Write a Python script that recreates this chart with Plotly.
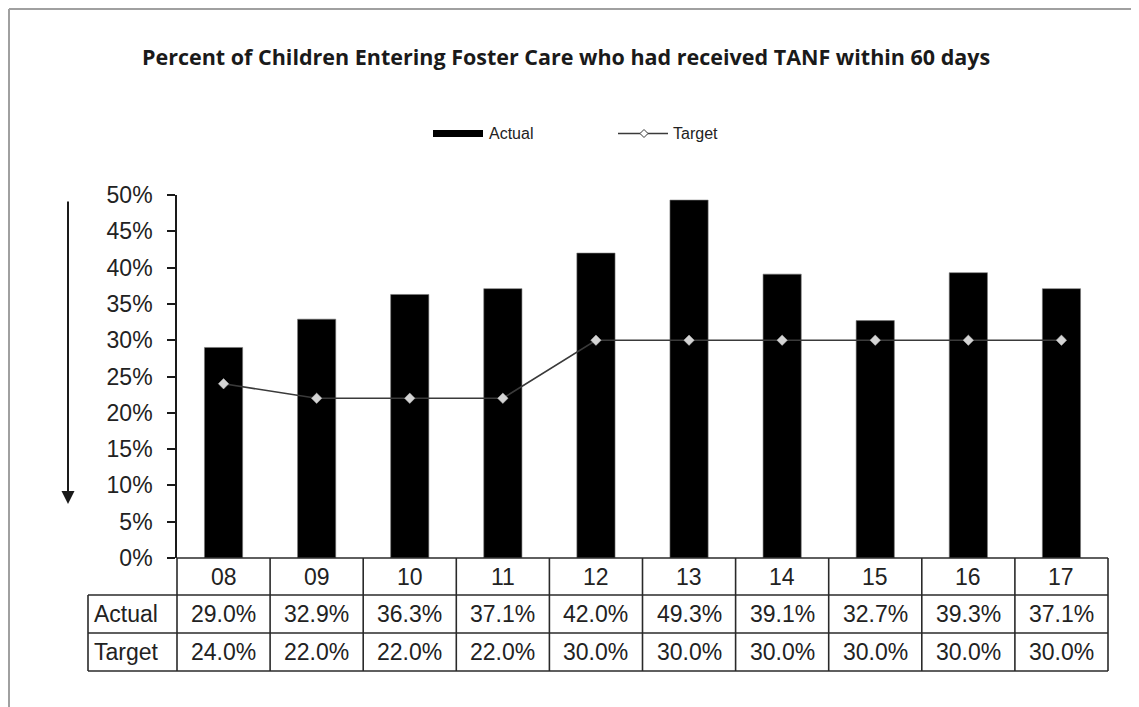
import plotly.graph_objects as go

years = ["08", "09", "10", "11", "12", "13", "14", "15", "16", "17"]
actual = [29.0, 32.9, 36.3, 37.1, 42.0, 49.3, 39.1, 32.7, 39.3, 37.1]
target = [24.0, 22.0, 22.0, 22.0, 30.0, 30.0, 30.0, 30.0, 30.0, 30.0]
title_text = "Percent of Children Entering Foster Care who had received TANF within 60 days"

W, H = 1139, 707
OFF = 8  # page margin offset of the rendered figure
# plot area in reference page pixels
X0, X1, Y0, Y1 = 177, 1108, 195, 558
L, R = X0 - OFF, W - (X1 - OFF)
T, B = Y0 - OFF, H - (Y1 - OFF)
pw, ph = X1 - X0, Y1 - Y0

def px(x):  # reference page pixel -> paper x
    return (x - X0) / pw

def py(y):  # reference page pixel -> paper y
    return (Y1 - y) / ph

n = len(years)
xs = list(range(n))
act_frac = [v / 100 for v in actual]
tgt_frac = [v / 100 for v in target]

fig = go.Figure()
fig.add_trace(go.Bar(
    x=xs, y=act_frac, name="Actual", width=0.41,
    marker=dict(color="#000000", line=dict(color="#777777", width=0.6)),
    showlegend=False,
))
fig.add_trace(go.Scatter(
    x=xs, y=tgt_frac, name="Target", mode="lines+markers",
    line=dict(color="#3a3a3a", width=1.6),
    marker=dict(symbol="diamond", size=8, color="#d4d4d4", line=dict(color="#bdbdbd", width=0.5)),
    showlegend=False,
))

TXT = "#222222"
FONT = "Liberation Sans, Arial, sans-serif"

shapes = []
LC = "#2a2a2a"
LW = 1.6
# table lines
y_rows = [py(558), py(595), py(633), py(671)]
x_left = px(88)
for k in range(n + 1):
    xb = k / n
    shapes.append(dict(type="line", xref="paper", yref="paper", x0=xb, x1=xb,
                       y0=y_rows[0], y1=y_rows[3], line=dict(color=LC, width=LW)))
shapes.append(dict(type="line", xref="paper", yref="paper", x0=0, x1=1,
                   y0=y_rows[0], y1=y_rows[0], line=dict(color=LC, width=LW)))
for yr in y_rows[1:]:
    shapes.append(dict(type="line", xref="paper", yref="paper", x0=x_left, x1=1,
                       y0=yr, y1=yr, line=dict(color=LC, width=LW)))
shapes.append(dict(type="line", xref="paper", yref="paper", x0=x_left, x1=x_left,
                   y0=y_rows[1], y1=y_rows[3], line=dict(color=LC, width=LW)))

# outer border (top and left only), as close to the page corner as the figure allows
bx, by = OFF + 1, OFF + 1
shapes.append(dict(type="line", xref="paper", yref="paper", x0=px(bx), x1=px(W + 20),
                   y0=py(by), y1=py(by), line=dict(color="#a0a0a0", width=2)))
shapes.append(dict(type="line", xref="paper", yref="paper", x0=px(bx), x1=px(bx),
                   y0=py(by), y1=py(H + 20), line=dict(color="#a0a0a0", width=2)))

# custom legend
shapes.append(dict(type="rect", xref="paper", yref="paper", x0=px(433), x1=px(483),
                   y0=py(137), y1=py(130), fillcolor="#000000", line=dict(width=0)))
shapes.append(dict(type="line", xref="paper", yref="paper", x0=px(618), x1=px(668),
                   y0=py(133.5), y1=py(133.5), line=dict(color="#3a3a3a", width=1.4)))
cx, cy, r = 644, 133.5, 4
shapes.append(dict(type="path", xref="paper", yref="paper",
                   path=f"M {px(cx-r)} {py(cy)} L {px(cx)} {py(cy-r)} L {px(cx+r)} {py(cy)} L {px(cx)} {py(cy+r)} Z",
                   fillcolor="#ffffff", line=dict(color="#3a3a3a", width=1)))

annotations = []
annotations.append(dict(text="Actual", xref="paper", yref="paper", x=px(487), y=py(133),
                        xanchor="left", yanchor="middle", showarrow=False,
                        font=dict(family=FONT, size=16, color=TXT)))
annotations.append(dict(text="Target", xref="paper", yref="paper", x=px(671), y=py(133),
                        xanchor="left", yanchor="middle", showarrow=False,
                        font=dict(family=FONT, size=16, color=TXT)))

tfont = dict(family=FONT, size=23, color=TXT)
for i, yv in enumerate(years):
    annotations.append(dict(text=yv, xref="x", yref="paper", x=i, y=py(577),
                            xanchor="center", yanchor="middle", showarrow=False, font=tfont))
    annotations.append(dict(text=f"{actual[i]:.1f}%", xref="x", yref="paper", x=i, y=py(614),
                            xanchor="center", yanchor="middle", showarrow=False, font=tfont))
    annotations.append(dict(text=f"{target[i]:.1f}%", xref="x", yref="paper", x=i, y=py(652),
                            xanchor="center", yanchor="middle", showarrow=False, font=tfont))
annotations.append(dict(text="Actual", xref="paper", yref="paper", x=px(92), y=py(614),
                        xanchor="left", yanchor="middle", showarrow=False, font=tfont))
annotations.append(dict(text="Target", xref="paper", yref="paper", x=px(92), y=py(652),
                        xanchor="left", yanchor="middle", showarrow=False, font=tfont))

# down arrow on the left
annotations.append(dict(text="", xref="paper", yref="paper", x=px(68), y=py(504),
                        ax=0, ay=-(504 - 200), showarrow=True, arrowhead=2, arrowsize=1.3,
                        arrowwidth=2, arrowcolor="#1a1a1a"))

# title as annotation positioned in reference pixels
annotations.append(dict(text=f"<b>{title_text}</b>", xref="paper", yref="paper",
                        x=px(566), y=py(57), xanchor="center", yanchor="middle", showarrow=False,
                        font=dict(family="Open Sans, Noto Sans, sans-serif", size=21.5, color="#1a1a1a")))

fig.update_layout(
    width=W, height=H,
    margin=dict(l=L, r=R, t=T, b=B),
    paper_bgcolor="white", plot_bgcolor="white",
    xaxis=dict(range=[-0.5, n - 0.5], showticklabels=False, showgrid=False, zeroline=False,
               showline=False, ticks=""),
    yaxis=dict(range=[0, 0.5], dtick=0.05, tick0=0, tickformat=".0%", showgrid=False,
               zeroline=False, showline=True, linecolor="#1a1a1a", linewidth=1.6,
               ticks="outside", ticklen=8, tickwidth=1.6, tickcolor="#1a1a1a",
               ticklabelstandoff=10,
               tickfont=dict(family=FONT, size=23, color=TXT)),
    shapes=shapes, annotations=annotations, showlegend=False,
    bargap=0.59,
)

fig.write_html("out.html")
